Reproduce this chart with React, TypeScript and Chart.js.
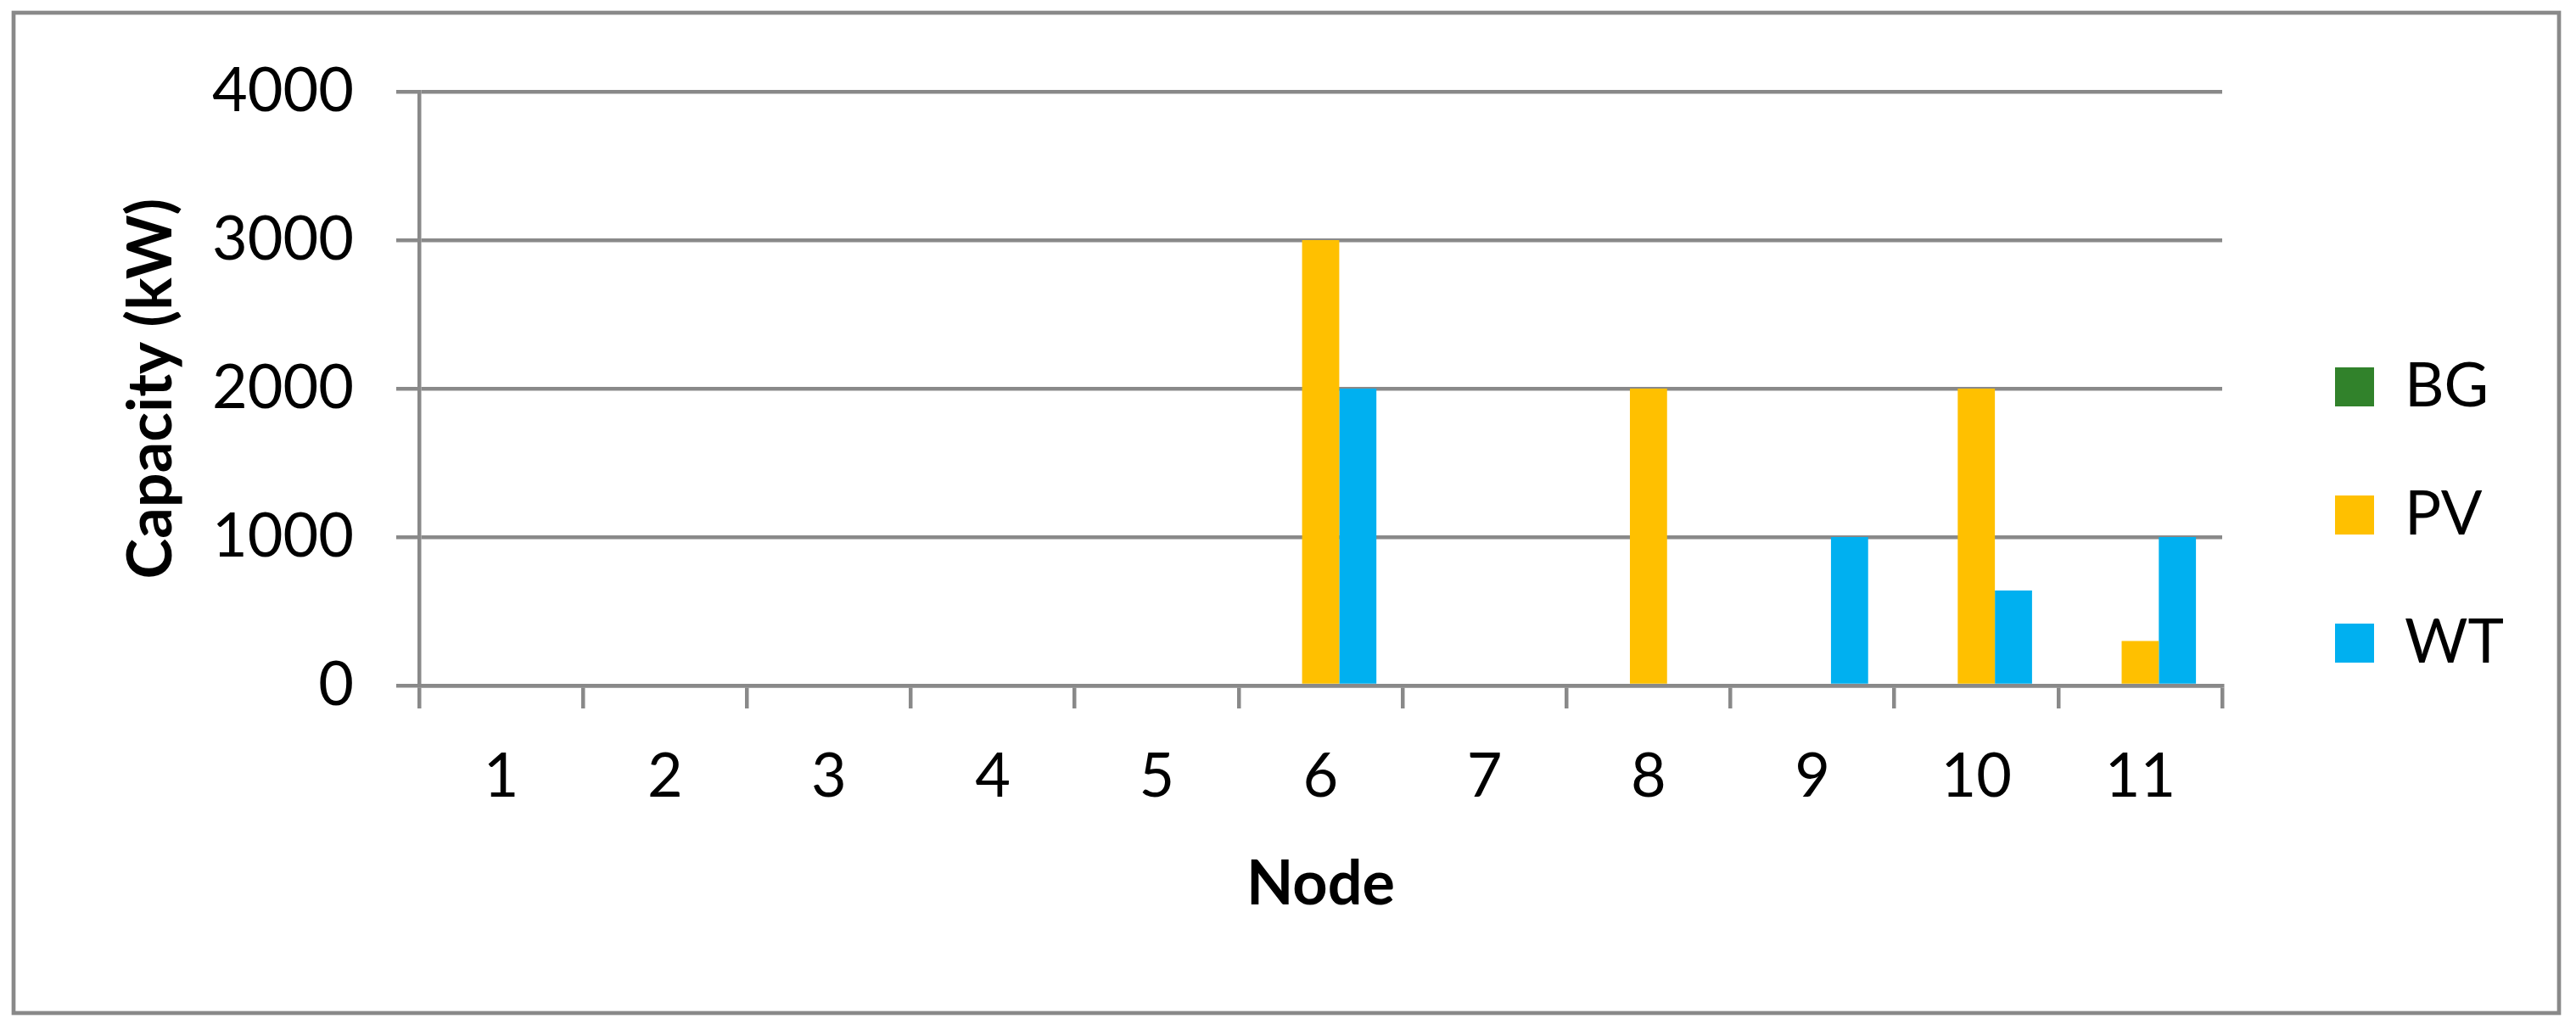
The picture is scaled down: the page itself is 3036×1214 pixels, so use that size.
import React, { useEffect, useRef } from 'react';
import { Chart, registerables } from 'chart.js';

Chart.register(...registerables);

// ---- data ----
const nodes = ['1', '2', '3', '4', '5', '6', '7', '8', '9', '10', '11'];
const bgValues = [0, 0, 0, 0, 0, 0, 0, 0, 0, 0, 0];
const pvValues = [0, 0, 0, 0, 0, 3000, 0, 2000, 0, 2000, 300];
const wtValues = [0, 0, 0, 0, 0, 2000, 0, 0, 1000, 640, 1000];
const seriesNames = ['BG', 'PV', 'WT'];
const seriesColors = ['#31822B', '#FFC000', '#00B0F0'];
const yAxisTitle = 'Capacity (kW)';
const xAxisTitle = 'Node';
const yMin = 0;
const yMax = 4000;
const yStep = 1000;

// ---- layout / style ----
const W = 3036;
const H = 1214;
const GRAY = '#898989';
const FONT = 'Lato';
const FS = 72;
const LEGEND_PAD = 79;
const LEGEND_BOX = 46;
const CHART_RIGHT = 2619;
const LEGEND_GAP = 54;

const framePlugin = {
  id: 'frame',
  afterDraw(chart: any) {
    const ctx = chart.ctx;
    ctx.save();
    ctx.strokeStyle = GRAY;
    ctx.lineWidth = 4.7;
    ctx.strokeRect(16, 15, 3000, 1179);
    ctx.restore();
  },
};

export default function App() {
  const ref = useRef<HTMLCanvasElement | null>(null);

  useEffect(() => {
    const canvas = ref.current;
    if (!canvas) return;

    const m = document.createElement('canvas').getContext('2d')!;
    m.font = `${FS}px ${FONT}`;
    const tw = Math.max(...seriesNames.map((s) => m.measureText(s).width));
    // Chart.js vertical legend width = padding + box + fontSize/2 + text + 10
    const legendWidth = LEGEND_PAD + LEGEND_BOX + FS / 2 + tw + 10;
    const padRight = Math.max(0, W - CHART_RIGHT - LEGEND_GAP - legendWidth);

    const values = [bgValues, pvValues, wtValues];

    const chart = new Chart(canvas, {
      type: 'bar',
      data: {
        labels: nodes,
        datasets: seriesNames.map((name, i) => ({
          label: name,
          data: values[i],
          backgroundColor: seriesColors[i],
          borderWidth: 0,
          categoryPercentage: 0.68,
          barPercentage: 1.0,
        })),
      },
      options: {
        responsive: false,
        animation: false,
        devicePixelRatio: 1,
        layout: { padding: { top: 0, left: 0, bottom: 0, right: padRight } },
        plugins: {
          title: {
            display: true,
            text: '',
            font: { size: 20 },
            padding: { top: 42, bottom: 42 },
          },
          tooltip: { enabled: false },
          legend: {
            position: 'right',
            align: 'center',
            fullSize: true,
            labels: {
              boxWidth: LEGEND_BOX,
              boxHeight: LEGEND_BOX,
              padding: LEGEND_PAD,
              color: '#000',
              font: { family: FONT, size: FS },
            },
          },
        },
        scales: {
          x: {
            type: 'category',
            position: 'bottom',
            afterFit: (s: any) => {
              s.height = 406;
            },
            grid: {
              display: true,
              drawOnChartArea: false,
              drawTicks: true,
              tickLength: 27,
              color: GRAY,
              lineWidth: 4.5,
              offset: true,
            },
            border: { display: true, color: GRAY, width: 4.5, z: 1 },
            ticks: {
              color: '#000',
              font: { family: FONT, size: FS },
              padding: 38,
              autoSkip: false,
              maxRotation: 0,
            },
            title: {
              display: true,
              text: xAxisTitle,
              color: '#000',
              font: { family: FONT, size: FS, weight: 'bold' },
              padding: { top: 0, bottom: 128 },
            },
          },
          y: {
            type: 'linear',
            position: 'left',
            min: yMin,
            max: yMax,
            afterFit: (s: any) => {
              s.width = 494;
            },
            grid: {
              display: true,
              drawOnChartArea: true,
              drawTicks: true,
              tickLength: 27,
              color: GRAY,
              lineWidth: 4.5,
            },
            border: { display: true, color: GRAY, width: 4.5 },
            ticks: {
              stepSize: yStep,
              color: '#000',
              font: { family: FONT, size: FS },
              padding: 50,
              callback: (v: any) => String(v),
            },
            title: {
              display: true,
              text: yAxisTitle,
              color: '#000',
              font: { family: FONT, size: FS, weight: 'bold' },
              padding: { top: 136, bottom: 0 },
            },
          },
          gap: {
            type: 'linear',
            position: 'right',
            display: true,
            afterFit: (s: any) => {
              s.width = LEGEND_GAP;
            },
            grid: { display: false, drawTicks: false },
            border: { display: false },
            ticks: { display: false },
          },
        },
      } as any,
      plugins: [framePlugin],
    });

    return () => chart.destroy();
  }, []);

  return (
    <div style={{ position: 'fixed', left: 0, top: 0, width: W, height: H, background: '#fff' }}>
      <canvas ref={ref} width={W} height={H} style={{ width: W, height: H, display: 'block' }} />
    </div>
  );
}
